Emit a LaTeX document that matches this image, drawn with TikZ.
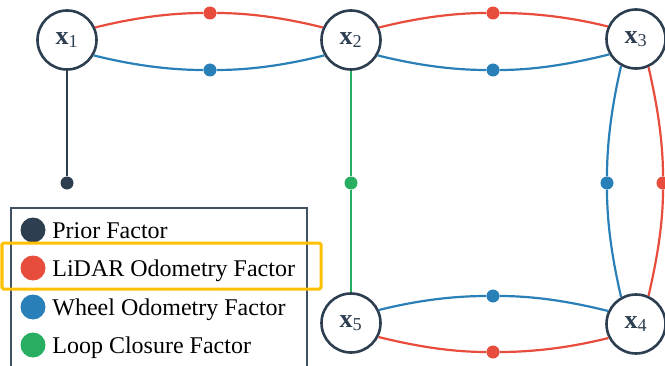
\documentclass[tikz,border=0pt]{standalone}
\usepackage{fontspec}
\setmainfont{Liberation Serif}
\usetikzlibrary{positioning}

\definecolor{navy}{HTML}{2C3E50}
\definecolor{lidarred}{HTML}{E74C3C}
\definecolor{wheelblue}{HTML}{2980B9}
\definecolor{loopgreen}{HTML}{27AE60}
\definecolor{highlight}{HTML}{FFC000}

\tikzset{
  pose/.style={circle,draw=navy,line width=2.6pt,fill=white,minimum size=59pt,
    inner sep=0pt,text=navy,font=\fontsize{26}{26}\selectfont},
  factor/.style={circle,fill=#1,minimum size=13pt,inner sep=0pt},
  edge/.style={line width=2.2pt,draw=#1,looseness=0.85},
  keydot/.style={circle,fill=#1,minimum size=25pt,inner sep=0pt},
  keytext/.style={font=\fontsize{24}{24}\selectfont,anchor=west,inner sep=0pt,
    text height=16pt,text depth=0pt}
}

\begin{document}
\begin{tikzpicture}[x=1pt,y=1pt]
        \clip (0,0) rectangle (665,365);

        % Poses
        \node[pose] (x1) at (67,325) {\textbf{x}\textsubscript{1}};
        \node[pose] (x2) at (351,325) {\textbf{x}\textsubscript{2}};
        \node[pose] (x3) at (636,326) {\textbf{x}\textsubscript{3}};
        \node[pose] (x4) at (636,41) {\textbf{x}\textsubscript{4}};
        \node[pose] (x5) at (351,42) {\textbf{x}\textsubscript{5}};

        % Factors
        \node[factor=navy] (p1) at (67,182) {};
        \node[factor=lidarred] (l12) at (210,352) {};
        \node[factor=wheelblue] (w12) at (210,295) {};
        \node[factor=lidarred] (l23) at (493,352) {};
        \node[factor=wheelblue] (w23) at (493,295) {};
        \node[factor=wheelblue] (w34) at (607,182) {};
        \node[factor=lidarred] (l34) at (663,182) {};
        \node[factor=wheelblue] (w54) at (493,69) {};
        \node[factor=lidarred] (l54) at (493,13) {};
        \node[factor=loopgreen] (c25) at (351,182) {};

        % Prior
        \draw[edge=navy] (x1) -- (p1);

        % LiDAR / wheel odometry pairs
        \draw[edge=lidarred] (x1.24) to[out=14,in=180] (l12) to[out=0,in=166] (x2.156);
        \draw[edge=wheelblue] (x1.-30) to[out=-14,in=180] (w12) to[out=0,in=-166] (x2.-150);
        \draw[edge=lidarred] (x2.24) to[out=14,in=180] (l23) to[out=0,in=166] (x3.156);
        \draw[edge=wheelblue] (x2.-30) to[out=-14,in=180] (w23) to[out=0,in=-166] (x3.-150);
        \draw[edge=wheelblue] (x3.-119) to[out=-103,in=90] (w34) to[out=-90,in=103] (x4.119);
        \draw[edge=lidarred] (x3.-66) to[out=-77,in=90] (l34) to[out=-90,in=77] (x4.66);
        \draw[edge=wheelblue] (x5.25) to[out=14,in=180] (w54) to[out=0,in=166] (x4.155);
        \draw[edge=lidarred] (x5.-27) to[out=-14,in=180] (l54) to[out=0,in=-166] (x4.-153);

        % Loop closure
        \draw[edge=loopgreen] (x2) -- (c25) -- (x5);

        % Legend
        \draw[navy!90,line width=1.8pt] (11,-20) -- (11,157) -- (307,157) -- (307,-20);
        \node[keydot=navy] (k1) at (33,135) {};
        \node[keytext,right=6.5pt of k1] (t1) {Prior Factor};
        \node[keydot=lidarred] (k2) at (33,97) {};
        \node[keytext,right=6.5pt of k2] (t2) {LiDAR Odometry Factor};
        \node[keydot=wheelblue] (k3) at (33,58) {};
        \node[keytext,right=6.5pt of k3] (t3) {Wheel Odometry Factor};
        \node[keydot=loopgreen] (k4) at (33,20) {};
        \node[keytext,right=6.5pt of k4] (t4) {Loop Closure Factor};

        % highlighted entry
        \draw[highlight,line width=3pt,rounded corners=1.5pt] (2,76) rectangle (321,122);
    \end{tikzpicture}
\end{document}
